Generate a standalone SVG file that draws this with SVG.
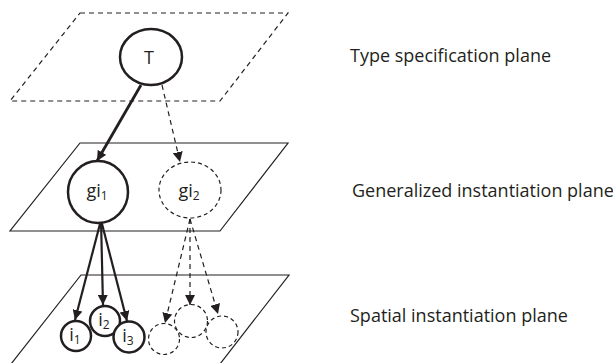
<svg xmlns="http://www.w3.org/2000/svg" width="613" height="363" viewBox="0 0 613 363">
<style>
.plane{fill:none;stroke:#231f20;stroke-width:1.2}
.dplane{fill:none;stroke:#231f20;stroke-width:1.2;stroke-dasharray:5 4}
.node{fill:#fff;stroke:#231f20;stroke-width:2.5}
.dnode{fill:none;stroke:#231f20;stroke-width:1.2;stroke-dasharray:4 3}
.lbl{font-family:"Open Sans","Liberation Sans",sans-serif;font-size:18px;fill:#231f20}
.nl{font-family:"Open Sans","Liberation Sans",sans-serif;font-size:18px;fill:#231f20;text-anchor:middle}
.sub{font-size:12px}
.arr{fill:none;stroke:#231f20;stroke-width:2.2;marker-end:url(#ah)}
.darr{fill:none;stroke:#231f20;stroke-width:1.2;stroke-dasharray:5 4;marker-end:url(#ah)}
</style>
<defs>
<marker id="ah" viewBox="0 0 10 10" refX="10" refY="5" markerWidth="10" markerHeight="10" markerUnits="userSpaceOnUse" orient="auto">
<path d="M0,0 L10,5 L0,10 z" fill="#231f20"/>
</marker>
</defs>
<g id="planes">
<polygon class="dplane" points="80,13 288,13 220,101 10,101"/>
<polygon class="plane" points="80,143 288,143 220,231 10,231"/>
<polygon class="plane" points="81,275 289,275 220,364 11,364"/>
</g>
<g id="connectors">
<line class="arr" x1="141" y1="85" x2="97" y2="161" style="stroke-width:2.8"/>
<line class="darr" x1="162" y1="85" x2="180" y2="162"/>
<line class="arr" x1="101" y1="220" x2="75" y2="320"/>
<line class="arr" x1="101" y1="220" x2="103" y2="305"/>
<line class="arr" x1="101" y1="220" x2="127" y2="321"/>
<line class="darr" x1="190" y1="219" x2="165" y2="323"/>
<line class="darr" x1="190" y1="219" x2="190" y2="305"/>
<line class="darr" x1="190" y1="219" x2="218" y2="314"/>
</g>
<g id="node-T">
<ellipse class="node" cx="151" cy="57" rx="31" ry="28"/>
<text class="nl" x="149" y="64">T</text>
</g>
<g id="node-gi1">
<ellipse class="node" cx="98" cy="192" rx="30" ry="31"/>
<text class="nl" x="97" y="197">gi<tspan class="sub" dy="3">1</tspan></text>
</g>
<g id="node-gi2">
<ellipse class="dnode" cx="190" cy="190" rx="31" ry="28"/>
<text class="nl" x="189" y="197">gi<tspan class="sub" dy="3">2</tspan></text>
</g>
<g id="node-i2">
<circle class="node" cx="105" cy="321" r="15"/>
<text class="nl" x="104" y="326">i<tspan class="sub" dy="3">2</tspan></text>
</g>
<g id="node-i1">
<circle class="node" cx="76" cy="336" r="15"/>
<text class="nl" x="75" y="341">i<tspan class="sub" dy="3">1</tspan></text>
</g>
<g id="node-i3">
<circle class="node" cx="129" cy="337" r="15.5"/>
<text class="nl" x="128" y="342">i<tspan class="sub" dy="3">3</tspan></text>
</g>
<g id="node-c1"><circle class="dnode" cx="164" cy="339" r="15.5"/></g>
<g id="node-c2"><circle class="dnode" cx="191" cy="321" r="16.5"/></g>
<g id="node-c3"><circle class="dnode" cx="222" cy="332" r="16"/></g>
<g id="labels">
<text class="lbl" x="350" y="62">Type specification plane</text>
<text class="lbl" x="352" y="197">Generalized instantiation plane</text>
<text class="lbl" x="350" y="322">Spatial instantiation plane</text>
</g>
</svg>
